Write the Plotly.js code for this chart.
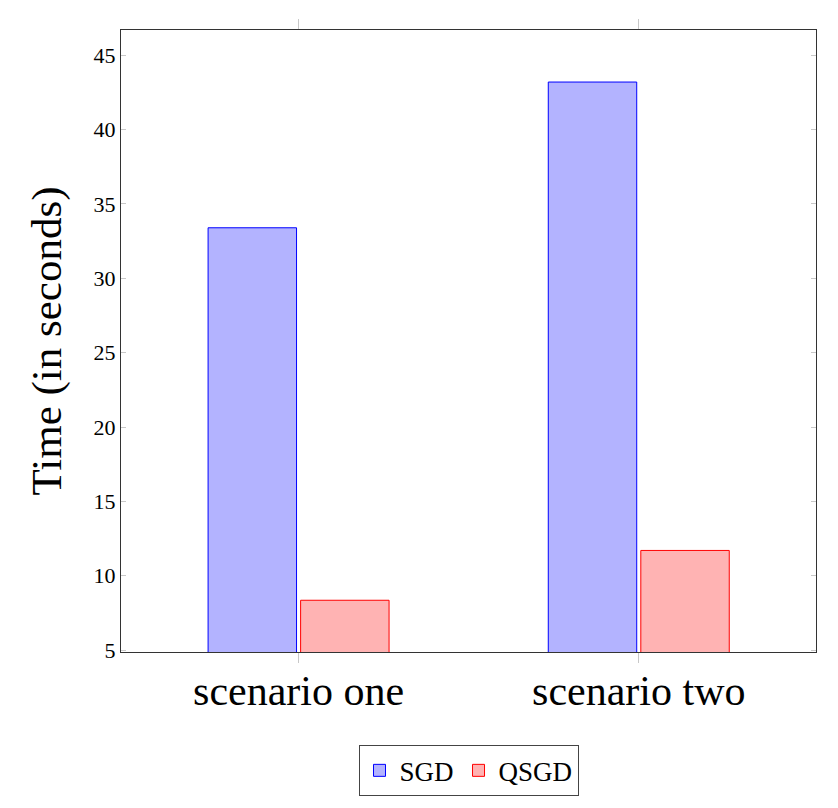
<!DOCTYPE html>
<html>
<head>
<meta charset="utf-8">
<script src="https://cdn.plot.ly/plotly-3.0.1.min.js"></script>
<style>
  html, body { margin: 0; padding: 0; background: #fff; }
  #chart { width: 838px; height: 808px; }
</style>
</head>
<body>
<div id="chart"></div>
<script>
// Running time per scenario
const scenarios = ["scenario one", "scenario two"];
const sgdTimes = [33.4, 43.2];
const qsgdTimes = [8.35, 11.7];
const yTicks = [5, 10, 15, 20, 25, 30, 35, 40, 45];

const serif = 'Liberation Serif';

const traces = [
  {
    type: 'bar',
    name: 'SGD',
    x: scenarios,
    y: sgdTimes,
    width: 0.26,
    offset: -0.266,
    marker: { color: '#b3b3ff', line: { color: '#0000ff', width: 1 } }
  },
  {
    type: 'bar',
    name: 'QSGD',
    x: scenarios,
    y: qsgdTimes,
    width: 0.26,
    offset: 0.006,
    marker: { color: '#ffb3b3', line: { color: '#ff0000', width: 1 } }
  }
];

const layout = {
  width: 838,
  height: 808,
  margin: { l: 121, r: 22, t: 30, b: 156 },
  paper_bgcolor: '#fff',
  plot_bgcolor: '#fff',
  barmode: 'overlay',
  font: { family: serif, color: '#000' },
  showlegend: true,
  legend: {
    orientation: 'h',
    x: 0.5, xanchor: 'center',
    y: -0.15, yanchor: 'top',
    bordercolor: '#444', borderwidth: 1,
    font: { family: serif, size: 27, color: '#000' },
    itemwidth: 30,
    tracegroupgap: 0
  },
  xaxis: {
    type: 'category',
    range: [-0.522, 1.521],
    showgrid: false,
    zeroline: false,
    showline: true,
    linecolor: '#333',
    linewidth: 1,
    mirror: 'all',
    ticks: 'outside',
    ticklen: 10,
    tickcolor: '#c8c8c8',
    tickwidth: 1,
    ticklabelstandoff: -8,
    tickfont: { family: serif, size: 42, color: '#000' }
  },
  yaxis: {
    range: [4.87, 46.7],
    tickvals: yTicks,
    ticktext: yTicks.map(String),
    showgrid: false,
    zeroline: false,
    showline: true,
    linecolor: '#333',
    linewidth: 1,
    mirror: 'all',
    ticks: 'inside',
    ticklen: 5,
    tickcolor: '#c8c8c8',
    tickwidth: 1,
    tickfont: { family: serif, size: 22, color: '#000' },
    title: { text: 'Time (in seconds)', font: { family: serif, size: 43, color: '#000' }, standoff: 18 }
  }
};

Plotly.newPlot('chart', traces, layout, { displayModeBar: false, staticPlot: true });
</script>
</body>
</html>
